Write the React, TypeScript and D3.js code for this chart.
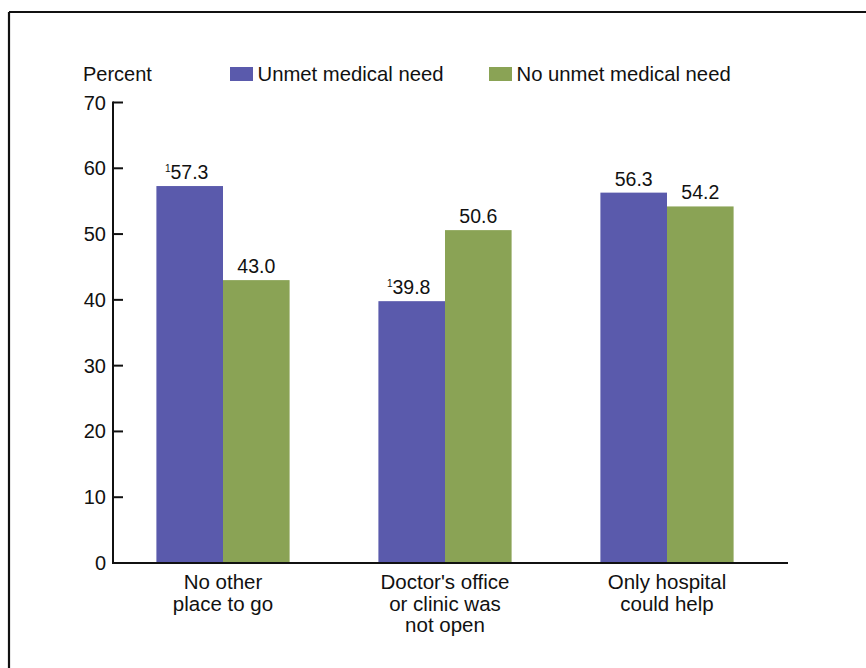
import React from 'react';
import * as d3 from 'd3';

const categories = [
  ['No other', 'place to go'],
  ["Doctor's office", 'or clinic was', 'not open'],
  ['Only hospital', 'could help'],
];
const seriesNames = ['Unmet medical need', 'No unmet medical need'];
const unmet = [57.3, 39.8, 56.3];
const noUnmet = [43.0, 50.6, 54.2];
const unmetFootnote = [true, true, false];
const yTicks = [0, 10, 20, 30, 40, 50, 60, 70];

const BLUE = '#5a5aac';
const GREEN = '#8aa355';
const FONT = 'Arial, "Liberation Sans", Helvetica, sans-serif';

const App: React.FC = () => {
  const width = 866;
  const height = 668;

  const y = d3.scaleLinear().domain([0, 70]).range([563, 102.5]);
  const x = d3
    .scaleBand<number>()
    .domain(d3.range(categories.length))
    .range([112, 778])
    .paddingInner(0.4)
    .paddingOuter(0.2);
  const xs = d3.scaleBand<number>().domain([0, 1]).range([0, x.bandwidth()]);

  const series = [unmet, noUnmet];
  const colors = [BLUE, GREEN];

  return (
    <div style={{ position: 'absolute', left: 0, top: 0 }}>
      <svg width={width} height={height} style={{ display: 'block', fontFamily: FONT }}>
        <rect width={width} height={height} fill="#fff" />
        {/* frame (only top and left edges visible) */}
        <line x1={9} x2={width} y1={12} y2={12} stroke="#111" strokeWidth={2.2} />
        <line x1={9} x2={9} y1={12} y2={height} stroke="#111" strokeWidth={2.2} />

        {/* legend */}
        <text x={83} y={81} fontSize={20} fill="#111">Percent</text>
        {seriesNames.map((name, i) => {
          const lx = [230, 489][i];
          return (
            <g key={name}>
              <rect x={lx} y={67} width={23} height={14} fill={colors[i]} />
              <text x={lx + 27.5} y={81} fontSize={20.3} fill="#111">{name}</text>
            </g>
          );
        })}

        {/* bars */}
        {series.map((vals, s) =>
          vals.map((v, i) => {
            const bx = (x(i) as number) + (xs(s) as number);
            const foot = s === 0 && unmetFootnote[i];
            return (
              <g key={`${s}-${i}`}>
                <rect
                  x={bx}
                  y={y(v)}
                  width={xs.bandwidth()}
                  height={y(0) - y(v)}
                  fill={colors[s]}
                />
                <text
                  x={bx + xs.bandwidth() / 2 - (foot ? 3 : 0)}
                  y={y(v) - 7}
                  fontSize={19.5}
                  textAnchor="middle"
                  fill="#111"
                >
                  {foot ? (
                    <>
                      <tspan fontSize={10} dy={-7}>1</tspan>
                      <tspan dy={7}>{v.toFixed(1)}</tspan>
                    </>
                  ) : (
                    v.toFixed(1)
                  )}
                </text>
              </g>
            );
          })
        )}

        {/* y axis */}
        <line x1={113} x2={113} y1={y(70) - 1} y2={y(0)} stroke="#111" strokeWidth={2} />
        {yTicks.map((t) => (
          <g key={t}>
            <line x1={113} x2={123} y1={y(t)} y2={y(t)} stroke="#111" strokeWidth={2} />
            <text x={106} y={y(t) + 7} fontSize={20} textAnchor="end" fill="#111">
              {t}
            </text>
          </g>
        ))}

        {/* x axis */}
        <line x1={112} x2={788} y1={y(0)} y2={y(0)} stroke="#111" strokeWidth={2} />
        {categories.map((lines, i) => (
          <text
            key={i}
            x={(x(i) as number) + x.bandwidth() / 2}
            y={589}
            fontSize={20.5}
            textAnchor="middle"
            fill="#111"
          >
            {lines.map((l, j) => (
              <tspan key={j} x={(x(i) as number) + x.bandwidth() / 2} dy={j === 0 ? 0 : 21.5}>
                {l}
              </tspan>
            ))}
          </text>
        ))}
      </svg>
    </div>
  );
};

export default App;
